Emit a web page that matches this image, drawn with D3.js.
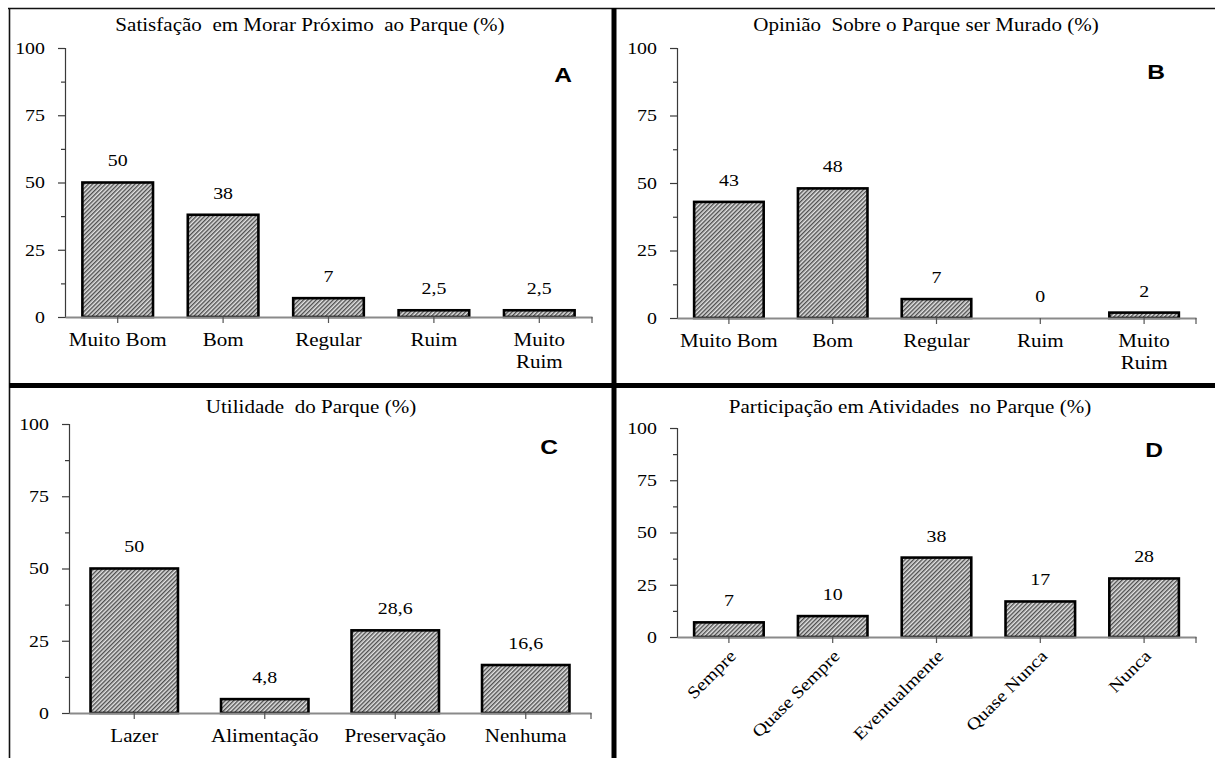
<!DOCTYPE html>
<html><head><meta charset="utf-8">
<script src="https://cdn.jsdelivr.net/npm/d3@7/dist/d3.min.js"></script>
<style>
html,body{margin:0;padding:0;background:#fff;}
svg{display:block;}
</style></head>
<body>
<svg id="chart" width="1215" height="758"></svg>
<script>
// ---- data ----
const titleA = "Satisfação  em Morar Próximo  ao Parque (%)";
const catsA = ["Muito Bom", "Bom", "Regular", "Ruim", "Muito\nRuim"];
const valsA = [50, 38, 7, 2.5, 2.5];

const titleB = "Opinião  Sobre o Parque ser Murado (%)";
const catsB = ["Muito Bom", "Bom", "Regular", "Ruim", "Muito\nRuim"];
const valsB = [43, 48, 7, 0, 2];

const titleC = "Utilidade  do Parque (%)";
const catsC = ["Lazer", "Alimentação", "Preservação", "Nenhuma"];
const valsC = [50, 4.8, 28.6, 16.6];

const titleD = "Participação em Atividades  no Parque (%)";
const catsD = ["Sempre", "Quase Sempre", "Eventualmente", "Quase Nunca", "Nunca"];
const valsD = [7, 10, 38, 17, 28];

const yTicks = [0, 25, 50, 75, 100];
const yMinorTicks = [12.5, 37.5, 62.5, 87.5];

// ---- drawing ----
const SX = 1.17;
const SERIF = "'Liberation Serif','DejaVu Serif','Times New Roman',serif";
const SANS = "'Liberation Sans',Arial,sans-serif";
const svg = d3.select("#chart");
const fmt = v => String(v).replace(".", ",");

const defs = svg.append("defs");
const pat = defs.append("pattern").attr("id", "hatch")
  .attr("patternUnits", "userSpaceOnUse").attr("width", 3).attr("height", 3)
  .attr("patternTransform", "rotate(45)");
pat.append("rect").attr("width", 3).attr("height", 3).attr("fill", "#e2e2e2");
pat.append("line").attr("x1", 0.7).attr("y1", 0).attr("x2", 0.7).attr("y2", 3)
  .attr("stroke", "#4e4e4e").attr("stroke-width", 1.4);

function T(g, x, y, s, o = {}) {
  return g.append("text")
    .attr("transform", `translate(${x},${y})` + (o.rotate ? ` rotate(${o.rotate})` : "") + ` scale(${SX},1)`)
    .attr("text-anchor", o.anchor || "middle")
    .attr("dy", o.dy == null ? "0.35em" : o.dy)
    .attr("font-family", o.family || SERIF)
    .attr("font-size", (o.size || 17))
    .attr("font-weight", o.weight || "normal")
    .attr("fill", "#000")
    .style("white-space", "pre")
    .text(s);
}

function panel(cfg, title, cats, vals) {
  const g = svg.append("g");
  const x = d3.scaleBand().domain(cats).range([cfg.x0, cfg.x1]).paddingInner(0.33).paddingOuter(0.165);
  const y = d3.scaleLinear().domain([0, 100]).range([cfg.y0, cfg.yTop]);

  // title and letter
  T(g, cfg.tx, cfg.ty, title, {size: 18});
  T(g, cfg.lx, cfg.ly, cfg.letter, {size: 21, weight: "bold", family: SANS});

  // y axis
  const ya = g.append("g").attr("transform", `translate(${cfg.x0},0)`)
    .call(d3.axisLeft(y).tickValues(yTicks).tickSize(7).tickFormat(""));
  ya.select(".domain").attr("stroke", "#3a3a3a").attr("stroke-width", 1.2);
  ya.selectAll(".tick line").attr("stroke", "#3a3a3a").attr("stroke-width", 1.2);
  const ym = g.append("g").attr("transform", `translate(${cfg.x0},0)`)
    .call(d3.axisLeft(y).tickValues(yMinorTicks).tickSize(4).tickFormat(""));
  ym.select(".domain").remove();
  ym.selectAll(".tick line").attr("stroke", "#3a3a3a").attr("stroke-width", 1.2);
  yTicks.forEach(v => T(g, cfg.x0 - 20, y(v), String(v), {anchor: "end"}));

  // bars
  g.selectAll("rect.bar").data(cats).enter().append("rect").attr("class", "bar")
    .attr("x", c => x(c)).attr("width", x.bandwidth())
    .attr("y", (c, i) => y(vals[i])).attr("height", (c, i) => y(0) - y(vals[i]))
    .attr("fill", "url(#hatch)").attr("stroke", "#000").attr("stroke-width", 2.6)
    .style("display", (c, i) => vals[i] > 0 ? null : "none");

  // x axis
  const xa = g.append("g").attr("transform", `translate(0,${cfg.y0})`)
    .call(d3.axisBottom(x).tickSize(6).tickSizeOuter(0).tickFormat(""));
  xa.select(".domain").attr("stroke", "#8a8a8a").attr("stroke-width", 2);
  xa.selectAll(".tick line").attr("stroke", "#555").attr("stroke-width", 1.2);
  g.append("line").attr("x1", cfg.x1).attr("x2", cfg.x1).attr("y1", cfg.y0).attr("y2", cfg.y0 + 6)
    .attr("stroke", "#555").attr("stroke-width", 1.2);

  // value labels
  cats.forEach((c, i) => T(g, x(c) + x.bandwidth() / 2, y(vals[i]) - 22, fmt(vals[i])));

  // category labels
  cats.forEach(c => {
    const cx = x(c) + x.bandwidth() / 2;
    if (cfg.rotate) {
      T(g, cx + 8, cfg.y0 + 20, c, {anchor: "end", rotate: -45, dy: "0"});
    } else {
      c.split("\n").forEach((line, k) => T(g, cx, cfg.y0 + 23 + k * 22, line, {size: 18}));
    }
  });
}

panel({x0: 65, x1: 592, yTop: 48, y0: 317, tx: 310, ty: 25, lx: 563, ly: 75, letter: "A"}, titleA, catsA, valsA);
panel({x0: 677, x1: 1196, yTop: 48, y0: 318, tx: 926, ty: 25, lx: 1156, ly: 72, letter: "B"}, titleB, catsB, valsB);
panel({x0: 69, x1: 591, yTop: 424, y0: 713, tx: 311, ty: 407, lx: 549, ly: 447, letter: "C"}, titleC, catsC, valsC);
panel({x0: 677, x1: 1196, yTop: 428, y0: 637, tx: 910, ty: 407, lx: 1154, ly: 450, letter: "D", rotate: true}, titleD, catsD, valsD);

// frame lines
svg.append("line").attr("x1", 8).attr("x2", 1215).attr("y1", 8.5).attr("y2", 8.5).attr("stroke", "#111").attr("stroke-width", 1.6);
svg.append("line").attr("x1", 9.5).attr("x2", 9.5).attr("y1", 8).attr("y2", 758).attr("stroke", "#111").attr("stroke-width", 1.6);
svg.append("line").attr("x1", 614).attr("x2", 614).attr("y1", 8).attr("y2", 758).attr("stroke", "#000").attr("stroke-width", 5);
svg.append("line").attr("x1", 9).attr("x2", 1215).attr("y1", 385.5).attr("y2", 385.5).attr("stroke", "#000").attr("stroke-width", 5);
</script>
</body></html>
